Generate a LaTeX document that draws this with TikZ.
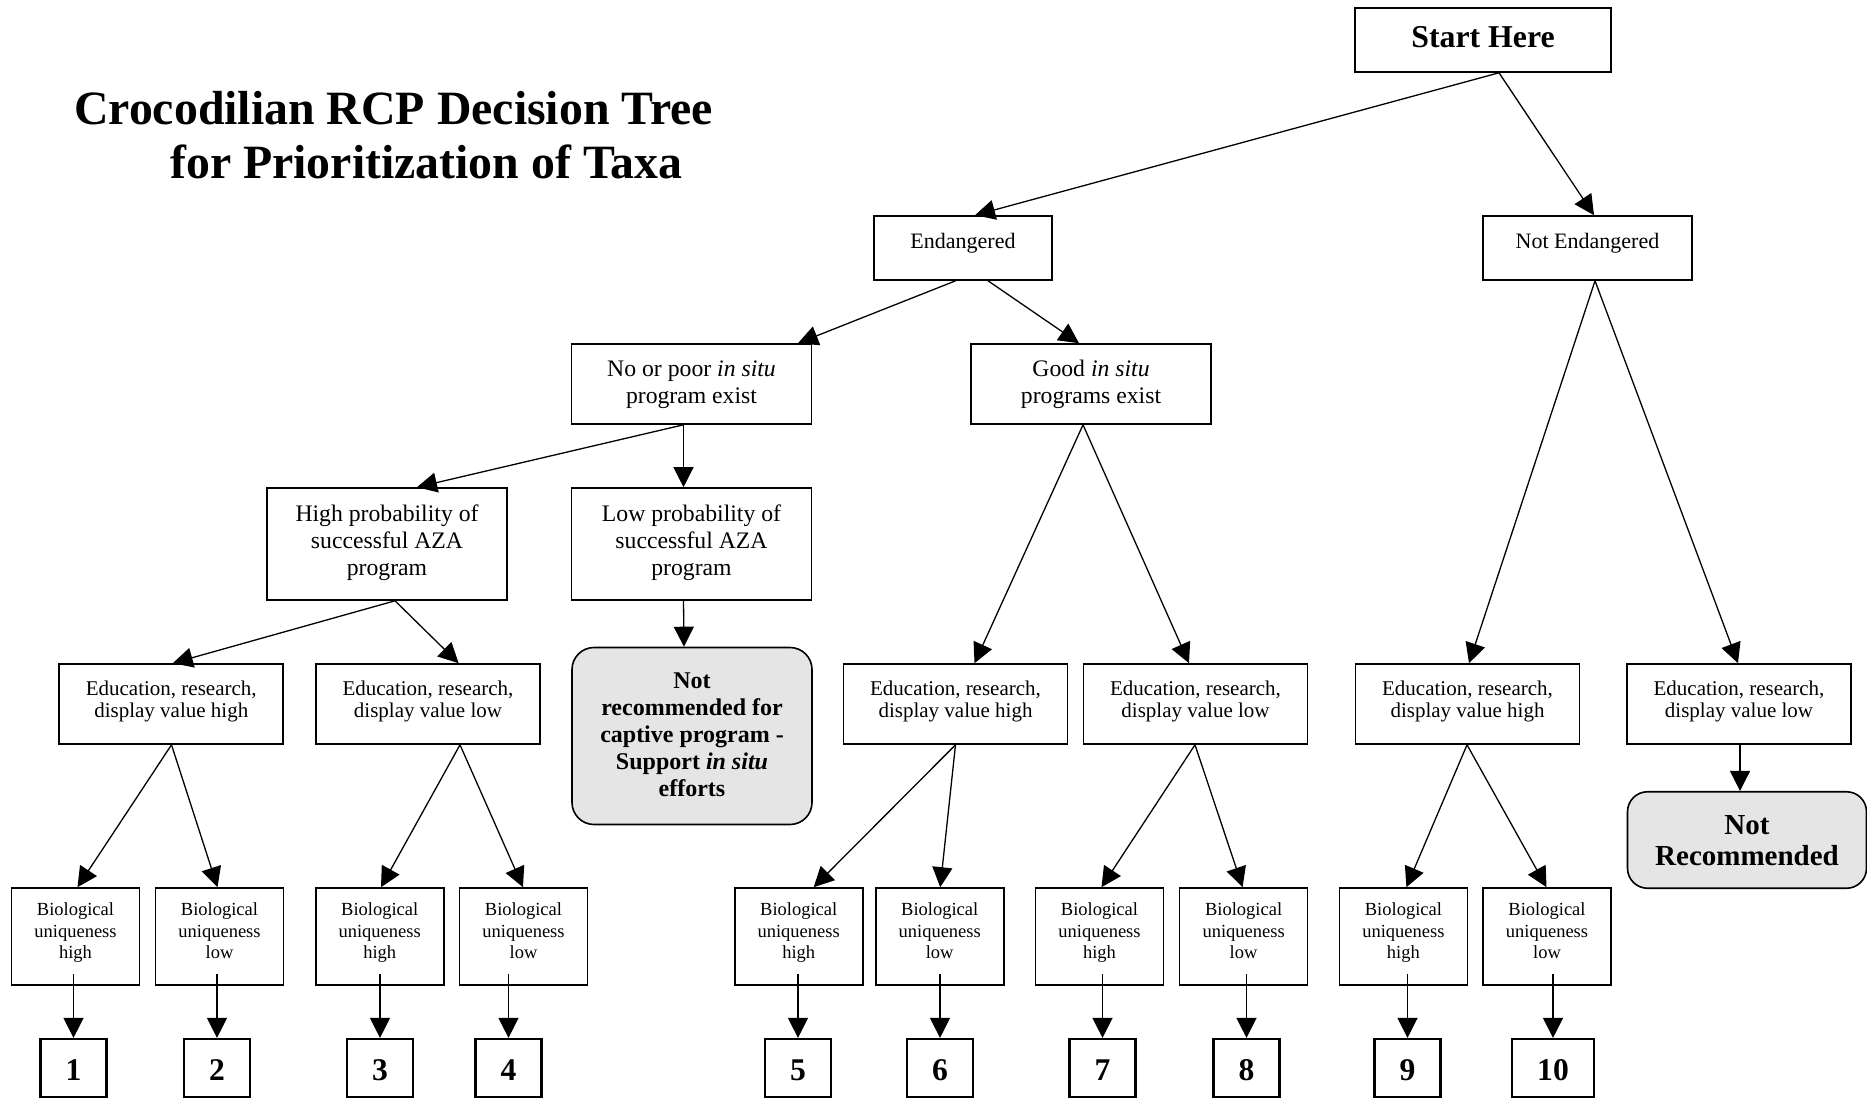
\documentclass[tikz,border=0pt]{standalone}
\usepackage{fontspec}
\setmainfont{Liberation Serif}
\usetikzlibrary{arrows.meta}
\tikzset{
  bx/.style={draw, line width=1.6pt, inner sep=0pt, align=center, text depth=0pt},
  lvone/.style={bx, minimum height=64pt, text height=2pt, font=\fontsize{22}{26}\selectfont},
  lvtwo/.style={bx, minimum width=240pt, minimum height=80pt, text height=38.8pt, font=\fontsize{23.7}{27}\selectfont},
  lvthree/.style={bx, minimum width=240pt, minimum height=112pt, text height=62pt, font=\fontsize{23.7}{27}\selectfont},
  edu/.style={bx, minimum width=224pt, minimum height=80pt, text height=27.4pt, font=\fontsize{21}{22.7}\selectfont},
  bio/.style={bx, minimum width=128pt, minimum height=97pt, text height=43.6pt, font=\fontsize{18.5}{21.2}\selectfont},
  num/.style={bx, line width=2.2pt, minimum width=66pt, minimum height=58pt, text height=24.8pt, font=\fontsize{31.6}{34}\selectfont\bfseries},
  nrbox/.style={bx, fill=gray!20, rounded corners=22pt},
  arr/.style={line width=1.3pt, -{Triangle[length=20pt,width=20pt]}},
}
\begin{document}
\begin{tikzpicture}[x=1pt, y=-1pt]
\useasboundingbox (0,0) rectangle (1867,1099);

% title
\node[anchor=south west, inner sep=0pt, align=left, text depth=0pt,
      font=\fontsize{47.8}{54.5}\selectfont\bfseries] (title) at (74,179)
  {Crocodilian RCP Decision Tree\\\hspace*{96pt}for Prioritization of Taxa};

% level 0-1
\node[bx, minimum width=256pt, minimum height=64pt, text height=14.8pt,
      font=\fontsize{31.8}{34}\selectfont\bfseries] (start) at (1483,40) {Start Here};
\node[lvone, minimum width=178pt] (endg) at (963,248) {Endangered};
\node[lvone, minimum width=209pt] (notend) at (1587.5,248) {Not Endangered};

% level 2
\node[lvtwo] (poor) at (691.5,384) {No or poor \textit{in situ}\\program exist};
\node[lvtwo] (good) at (1091,384) {Good \textit{in situ}\\programs exist};

% level 3
\node[lvthree] (highp) at (387,544) {High probability of\\successful AZA\\program};
\node[lvthree] (lowp) at (691.5,544) {Low probability of\\successful AZA\\program};

% not recommended boxes
\node[nrbox, minimum width=240pt, minimum height=177pt, text height=121.4pt,
      font=\fontsize{24}{27}\selectfont\bfseries] (nrone) at (692,736)
  {Not\\recommended for\\captive program -\\Support \textit{in situ}\\efforts};
\node[nrbox, rounded corners=20pt, minimum width=239pt, minimum height=96.5pt, text height=51.4pt,
      font=\fontsize{29}{31.4}\selectfont\bfseries] (nrtwo) at (1747,840)
  {Not\\Recommended};

% education boxes
\node[edu] (e1) at (171.25,704) {Education, research,\\display value high};
\node[edu] (e2) at (428,704) {Education, research,\\display value low};
\node[edu] (e3) at (955.5,704) {Education, research,\\display value high};
\node[edu] (e4) at (1195.5,704) {Education, research,\\display value low};
\node[edu] (e5) at (1467.5,704) {Education, research,\\display value high};
\node[edu] (e6) at (1739,704) {Education, research,\\display value low};

% biological boxes
\node[bio] (b1) at (75.5,936.5) {Biological\\uniqueness\\high};
\node[bio] (b2) at (219.5,936.5) {Biological\\uniqueness\\low};
\node[bio] (b3) at (379.7,936.5) {Biological\\uniqueness\\high};
\node[bio] (b4) at (523.5,936.5) {Biological\\uniqueness\\low};
\node[bio] (b5) at (798.7,936.5) {Biological\\uniqueness\\high};
\node[bio] (b6) at (939.7,936.5) {Biological\\uniqueness\\low};
\node[bio] (b7) at (1099.5,936.5) {Biological\\uniqueness\\high};
\node[bio] (b8) at (1243.6,936.5) {Biological\\uniqueness\\low};
\node[bio] (b9) at (1403.4,936.5) {Biological\\uniqueness\\high};
\node[bio] (b10) at (1547,936.5) {Biological\\uniqueness\\low};

% number boxes
\node[num] (n1) at (73.5,1068) {1};
\node[num] (n2) at (217,1068) {2};
\node[num] (n3) at (380,1068) {3};
\node[num] (n4) at (508.5,1068) {4};
\node[num] (n5) at (798,1068) {5};
\node[num] (n6) at (940,1068) {6};
\node[num] (n7) at (1102.5,1068) {7};
\node[num] (n8) at (1246.5,1068) {8};
\node[num] (n9) at (1407.5,1068) {9};
\node[num, minimum width=82pt] (n10) at (1553,1068) {10};

% connectors
\draw[arr] ([xshift=16pt]start.south) -- ([xshift=12pt]endg.north);
\draw[arr] ([xshift=16pt]start.south) -- ([xshift=6.5pt]notend.north);
\draw[arr] ([xshift=-7.4pt]endg.south) -- ([xshift=106.5pt]poor.north);
\draw[arr] ([xshift=25pt]endg.south) -- ([xshift=-12pt]good.north);
\draw[arr] ([xshift=-8pt]poor.south) -- ([xshift=30pt]highp.north);
\draw[arr] ([xshift=-8pt]poor.south) -- ([xshift=-8pt]lowp.north);
\draw[arr] ([xshift=8pt]highp.south) -- ([xshift=1.5pt]e1.north);
\draw[arr] ([xshift=8pt]highp.south) -- ([xshift=30.6pt]e2.north);
\draw[arr] ([xshift=-8pt]lowp.south) -- ([xshift=-8pt]nrone.north);
\draw[arr] ([xshift=-8pt]good.south) -- ([xshift=19pt]e3.north);
\draw[arr] ([xshift=-8pt]good.south) -- ([xshift=-6.5pt]e4.north);
\draw[arr] ([xshift=7.5pt]notend.south) -- ([xshift=1.5pt]e5.north);
\draw[arr] ([xshift=7.5pt]notend.south) -- ([xshift=-1pt]e6.north);
\draw[arr] ([xshift=1pt]e6.south) -- ([xshift=-7pt]nrtwo.north);

\draw[arr] ([xshift=0.25pt]e1.south) -- ([xshift=2pt]b1.north);
\draw[arr] ([xshift=0.25pt]e1.south) -- ([xshift=-2pt]b2.north);
\draw[arr] ([xshift=32pt]e2.south) -- ([xshift=1.3pt]b3.north);
\draw[arr] ([xshift=32pt]e2.south) -- ([xshift=-0.5pt]b4.north);
\draw[arr] (e3.south) -- ([xshift=15pt]b5.north);
\draw[arr] (e3.south) -- ([xshift=0.5pt]b6.north);
\draw[arr] ([xshift=-0.5pt]e4.south) -- ([xshift=2pt]b7.north);
\draw[arr] ([xshift=-0.5pt]e4.south) -- ([xshift=-1pt]b8.north);
\draw[arr] ([xshift=-0.5pt]e5.south) -- ([xshift=3pt]b9.north);
\draw[arr] ([xshift=-0.5pt]e5.south) -- ([xshift=-0.5pt]b10.north);

\foreach \i in {1,...,10}{
  \draw[arr] ([yshift=11.5pt]b\i.south -| n\i.north) -- (n\i.north);
}
\end{tikzpicture}
\end{document}
